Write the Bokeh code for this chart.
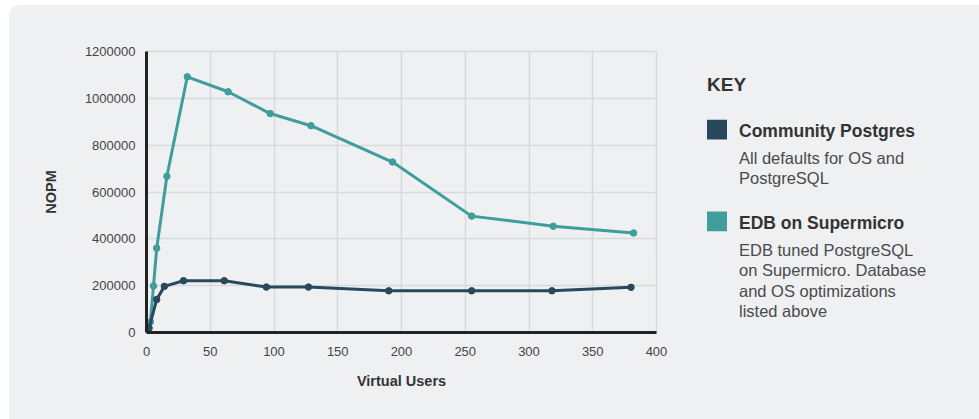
from bokeh.plotting import figure
from bokeh.models import Range1d, SingleIntervalTicker, NumeralTickFormatter, Row
from bokeh.core.properties import value
from bokeh.embed import file_html
from bokeh.resources import INLINE

# ---- data ----
users_community = [2, 8, 14, 29, 61, 94, 127, 190, 255, 318, 380]
nopm_community = [19000, 141000, 197000, 221000, 221000, 194000, 194000, 178000, 178000, 178000, 193000]
users_edb = [3, 5.5, 8, 16, 32, 64, 97, 129, 193, 255, 319, 382]
nopm_edb = [45000, 199000, 360000, 667000, 1092000, 1028000, 935000, 883000, 728000, 497000, 454000, 425000]

series_names = ["Community Postgres", "EDB on Supermicro"]
series_notes = [
    ["All defaults for OS and", "PostgreSQL"],
    ["EDB tuned PostgreSQL", "on Supermicro. Database", "and OS optimizations", "listed above"],
]
x_label = "Virtual Users"
y_label = "NOPM"
key_title = "KEY"
x_max, x_step = 400, 50
y_max, y_step = 1200000, 200000

# ---- styles ----
FONT = "Liberation Sans"
BG = "#eff0f2"
colors = ["#27495b", "#3f9d9b"]
GRID = "#d8d9db"
AXIS = "#222222"
TEXT = "#444444"
TOP, BOTTOM = 46, 87
H = 414

p = figure(width=681, height=H, x_range=Range1d(0, x_max), y_range=Range1d(0, y_max),
           output_backend="svg", toolbar_location=None,
           min_border_left=137, min_border_top=TOP, min_border_right=34, min_border_bottom=BOTTOM,
           background_fill_color=BG, border_fill_color=BG)
p.outline_line_color = GRID
p.outline_line_width = 1.5

p.xaxis.ticker = SingleIntervalTicker(interval=x_step)
p.yaxis.ticker = SingleIntervalTicker(interval=y_step)
p.yaxis.formatter = NumeralTickFormatter(format="0")
for ax in (p.xaxis, p.yaxis):
    ax.axis_line_color = AXIS
    ax.axis_line_width = 3
    ax.major_tick_in = 0
    ax.major_tick_out = 0
    ax.minor_tick_line_color = None
    ax.major_label_text_font = FONT
    ax.major_label_text_font_size = "13px"
    ax.major_label_text_color = TEXT
    ax.axis_label_text_font = FONT
    ax.axis_label_text_font_size = "14.5px"
    ax.axis_label_text_font_style = "bold"
    ax.axis_label_text_color = "#333333"
p.xaxis.axis_label = x_label
p.yaxis.axis_label = y_label
p.xaxis.major_label_standoff = 10
p.yaxis.major_label_standoff = 7
p.xaxis.axis_label_standoff = 14
p.yaxis.axis_label_standoff = 23

p.xgrid.grid_line_color = GRID
p.ygrid.grid_line_color = GRID
p.xgrid.grid_line_width = 1.5
p.ygrid.grid_line_width = 1.5

for xs, ys, c in ((users_edb, nopm_edb, colors[1]), (users_community, nopm_community, colors[0])):
    p.line(xs, ys, line_color=c, line_width=3)
    p.scatter(xs, ys, size=6.5, fill_color=c, line_color=c)

# ---- key panel (its frame is aligned with the chart frame by the row) ----
LW = 289
leg = figure(width=LW, height=H, x_range=Range1d(0, LW), y_range=Range1d(H - BOTTOM, TOP),
             output_backend="svg", toolbar_location=None,
             min_border_left=0, min_border_right=0, min_border_top=TOP, min_border_bottom=BOTTOM,
             x_axis_location=None, y_axis_location=None,
             background_fill_color=BG, border_fill_color=BG)
leg.outline_line_color = None
leg.xgrid.visible = False
leg.ygrid.visible = False

key_x, text_x = 16.5, 48.5
leg.text(x=[key_x], y=[79], text=[key_title], text_font=value(FONT), text_font_size="19px",
         text_font_style="bold", text_color="#333333", text_baseline="alphabetic")

block_top = [114.3, 206.0]
line_gap = 20.6
for i, name in enumerate(series_names):
    t = block_top[i]
    leg.quad(left=[key_x], right=[key_x + 20], top=[t], bottom=[t + 19.7],
             fill_color=colors[i], line_color=None)
    leg.text(x=[text_x], y=[t + 11], text=[name], text_font=value(FONT), text_font_size="17.5px",
             text_font_style="bold", text_color="#333333", text_baseline="alphabetic")
    notes = series_notes[i]
    leg.text(x=[text_x] * len(notes), y=[t + 38 + k * line_gap for k in range(len(notes))],
             text=notes, text_font=value(FONT), text_font_size="16.5px",
             text_color="#4a4a4a", text_baseline="alphabetic")

layout = Row(children=[p, leg], spacing=0, margin=(5, 0, 0, 9),
             styles={"border-top-left-radius": "10px", "overflow": "hidden", "background-color": BG})

open("out.html", "w").write(file_html(layout, INLINE))
